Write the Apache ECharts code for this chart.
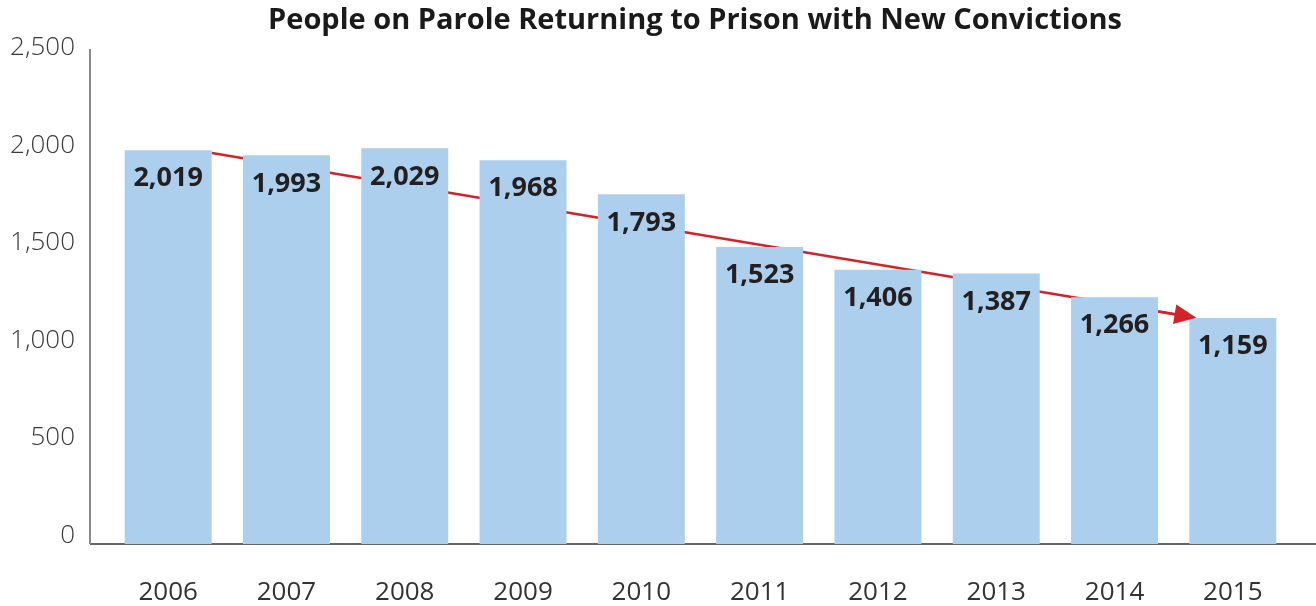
<!DOCTYPE html>
<html>
<head>
<meta charset="utf-8">
<script src="https://cdn.jsdelivr.net/npm/echarts@6/dist/echarts.min.js"></script>
<style>
  html, body { margin: 0; padding: 0; background: #fff; }
  #chart { width: 1316px; height: 606px; }
</style>
</head>
<body>
<div id="chart"></div>
<script>
const years = ['2006', '2007', '2008', '2009', '2010', '2011', '2012', '2013', '2014', '2015']
const returns = [2019, 1993, 2029, 1968, 1793, 1523, 1406, 1387, 1266, 1159]
const yTicks = [0, 500, 1000, 1500, 2000, 2500]

// trend arrow (x in category units from left edge of grid)
// last point is the middle of the arrow head
const trendX = [0.87, 8.87, 9.1]
const trendY = [2005, 1192, 1169]

const myChart = echarts.init(document.getElementById('chart'))

const fmt = (v) => Number(v).toLocaleString('en-US')

const option = {
  animation: false,
  title: {
    text: 'People on Parole Returning to Prison with New Convictions',
    left: 695,
    top: 6,
    padding: 0,
    textAlign: 'center',
    textStyle: {
      fontFamily: 'Open Sans',
      fontSize: 29,
      fontWeight: 'bold',
      color: '#1a1a1a'
    }
  },
  grid: {
    left: 109,
    right: 24,
    top: 56.5,
    bottom: 62
  },
  xAxis: [
    {
      type: 'category',
      data: years,
      axisLine: { show: false },
      axisTick: { show: false },
      axisLabel: {
        margin: 36,
        fontFamily: 'Open Sans',
        fontSize: 26,
        color: '#333'
      }
    },
    {
      type: 'value',
      min: 0,
      max: years.length,
      show: false
    }
  ],
  yAxis: {
    type: 'value',
    min: yTicks[0],
    max: yTicks[yTicks.length - 1],
    interval: 500,
    offset: 19,
    splitLine: { show: false },
    axisTick: { show: false },
    axisLine: { show: false },
    axisLabel: {
      margin: 15,
      verticalAlign: 'bottom',
      lineHeight: 17,
      fontFamily: 'Open Sans',
      fontWeight: 300,
      fontSize: 26,
      color: '#3a3a3a',
      formatter: (v) => fmt(v)
    }
  },
  series: [
    {
      name: 'trend',
      type: 'line',
      xAxisIndex: 1,
      z: 1,
      symbol: 'none',
      silent: true,
      data: trendX.map((x, i) => [x, trendY[i]]),
      lineStyle: { color: '#d3222a', width: 2.5 }
    },
    {
      name: 'returns',
      type: 'bar',
      z: 2,
      data: returns,
      barCategoryGap: '26.5%',
      itemStyle: { color: '#abcfec' },
      label: {
        show: true,
        position: 'insideTop',
        distance: 15,
        fontFamily: 'Open Sans',
        fontWeight: 'bold',
        fontSize: 27,
        color: '#231f20',
        formatter: (p) => fmt(p.value)
      }
    },
    {
      name: 'arrow',
      type: 'line',
      xAxisIndex: 1,
      z: 3,
      data: [],
      markLine: {
        silent: true,
        symbol: ['none', 'triangle'],
        symbolSize: [20, 22],
        label: { show: false },
        lineStyle: { color: '#d3222a', width: 2.5, type: 'solid' },
        data: [[
          { coord: [trendX[1], trendY[1]] },
          { coord: [trendX[2], trendY[2]] }
        ]]
      }
    }
  ]
}

myChart.setOption(option)

// axis lines: y from just above the top tick, x baseline out to the right edge
const baseY = myChart.convertToPixel({ yAxisIndex: 0 }, 0)
myChart.setOption({
  graphic: [
    {
      type: 'line',
      z: 0,
      silent: true,
      shape: { x1: 90, y1: baseY, x2: 1316, y2: baseY },
      style: { stroke: '#333', lineWidth: 1.5 }
    },
    {
      type: 'line',
      z: 0,
      silent: true,
      shape: { x1: 90, y1: 49, x2: 90, y2: baseY },
      style: { stroke: '#8a8a8a', lineWidth: 2 }
    }
  ]
})
</script>
</body>
</html>
